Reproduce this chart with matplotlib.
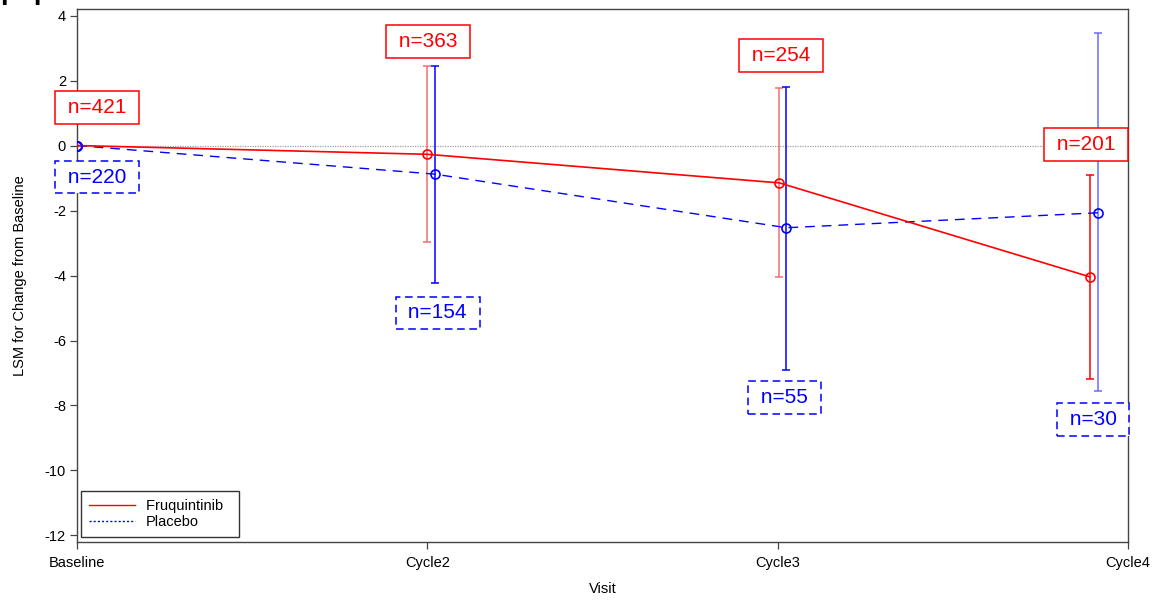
import matplotlib
matplotlib.use("Agg")
import matplotlib.pyplot as plt

plt.rcParams['font.family'] = ['Liberation Sans', 'DejaVu Sans']
plt.rcParams['axes.unicode_minus'] = False

visits = ["Baseline", "Cycle2", "Cycle3", "Cycle4"]

# plotting positions along the visit axis (slightly dodged per arm)
fruq_x = [0.0, 1.0, 2.005, 2.891]
plac_x = [0.0, 1.021, 2.025, 2.914]

# LS means with 95% CI
fruq_lsm = [0.0, -0.27, -1.15, -4.04]
fruq_lo = [0.0, -2.96, -4.04, -7.18]
fruq_hi = [0.0, 2.46, 1.78, -0.92]
plac_lsm = [0.0, -0.88, -2.53, -2.07]
plac_lo = [0.0, -4.22, -6.92, -7.55]
plac_hi = [0.0, 2.46, 1.81, 3.46]

fruq_n = [421, 363, 254, 201]
plac_n = [220, 154, 55, 30]
fruq_n_pos = [(0.056, 1.17), (1.003, 3.2), (2.009, 2.76), (2.88, 0.03)]
plac_n_pos = [(0.057, -0.97), (1.029, -5.15), (2.02, -7.75), (2.90, -8.43)]

red = "#ff0000"
blue = "#0000ff"
red_bar = ["#ff0000", "#f07070", "#f07070", "#ff0000"]
blue_bar = ["#0000ff", "#0000ff", "#0000ff", "#6b6bff"]

fig = plt.figure(figsize=(11.58, 6.03), dpi=100)
ax = fig.add_axes([0.0665, 0.1012, 0.9076, 0.8838])

ax.axhline(0, color="#a0a0a0", lw=0.9, ls=(0, (1, 1)), zorder=1)

for i in range(len(visits)):
    if i == 0:
        continue
    ax.errorbar(fruq_x[i], fruq_lsm[i],
                yerr=[[fruq_lsm[i] - fruq_lo[i]], [fruq_hi[i] - fruq_lsm[i]]],
                fmt="none", ecolor=red_bar[i], elinewidth=1.1, capsize=3, capthick=1.1, zorder=2)
    ax.errorbar(plac_x[i], plac_lsm[i],
                yerr=[[plac_lsm[i] - plac_lo[i]], [plac_hi[i] - plac_lsm[i]]],
                fmt="none", ecolor=blue_bar[i], elinewidth=1.1, capsize=3, capthick=1.1, zorder=2)

ax.plot(plac_x, plac_lsm, color=blue, lw=1.0, ls=(0, (7, 5)), marker="o",
        ms=6.5, mfc="none", mew=1.2, zorder=3)
ax.plot(fruq_x, fruq_lsm, color=red, lw=1.2, marker="o", ms=6.5, mfc="none", mew=1.2, zorder=4)
# baseline point sits on top in blue
ax.plot(plac_x[0], plac_lsm[0], color=blue, marker="o", ms=6.5, mfc="none", mew=1.4, zorder=5)

for n, (x, y) in zip(fruq_n, fruq_n_pos):
    ax.text(x, y, f" n={n} ", color=red, fontsize=15, ha="center", va="center", zorder=6,
            bbox=dict(boxstyle="square,pad=0.33", fc="white", ec=red, lw=1.1))
for n, (x, y) in zip(plac_n, plac_n_pos):
    ax.text(x, y, f" n={n} ", color=blue, fontsize=15, ha="center", va="center", zorder=6,
            bbox=dict(boxstyle="square,pad=0.33", fc="white", ec=blue, lw=1.1, ls=(0, (5, 3))))

ax.set_xlim(0, 3)
ax.set_ylim(-12.2, 4.2)
ax.set_xticks(range(len(visits)))
ax.set_xticklabels(visits)
ax.set_yticks(range(-12, 5, 2))
ax.tick_params(axis="both", labelsize=10.5, length=5, width=0.9, color="#444444")
ax.tick_params(axis="x", pad=5)
ax.tick_params(axis="y", pad=3)
for s in ax.spines.values():
    s.set_color("#444444")
    s.set_linewidth(1.0)

ax.set_xlabel("Visit", fontsize=10.5, labelpad=9)
ax.set_ylabel("LSM for Change from Baseline", fontsize=10.5, labelpad=13)

# legend: Placebo shown dotted
h1, = ax.plot([], [], color=red, lw=1.0)
h2, = ax.plot([], [], color=blue, lw=1.0, ls=(0, (1.5, 1.5)))
leg = ax.legend([h1, h2], ["Fruquintinib  ", "Placebo"], loc="lower left", fontsize=10.5,
                frameon=True, fancybox=False, edgecolor="black", borderpad=0.55,
                handlelength=3.15, handletextpad=0.75, labelspacing=0.15,
                borderaxespad=0, bbox_to_anchor=(0.0038, 0.0094))
leg.get_frame().set_linewidth(1.0)

fig.text(0.0, 1.002, "population", fontsize=20, fontweight="bold", va="baseline", ha="left")

fig.savefig("out.png", dpi=100)
